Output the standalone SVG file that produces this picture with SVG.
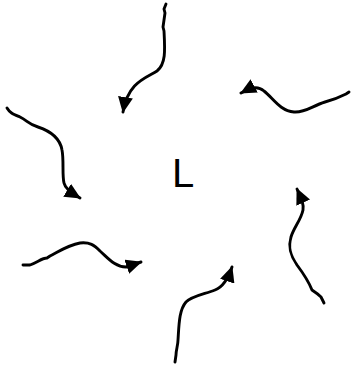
<svg xmlns="http://www.w3.org/2000/svg" width="351" height="366" viewBox="0 0 351 366">
<style>
.c{fill:none;stroke:#000;stroke-width:2.9;stroke-linecap:round;stroke-linejoin:round}
.t{font-family:"Liberation Sans",Arial,sans-serif;font-size:40px;fill:#000}
</style>
<defs>
<marker id="ah" viewBox="0 0 16 15" markerWidth="16" markerHeight="15" refX="15" refY="7.5" orient="auto" markerUnits="userSpaceOnUse">
<path d="M0,0 L16,7.5 L0,15 z" fill="#000"/>
</marker>
</defs>
<rect width="351" height="366" fill="#fff"/>
<g id="center"><text class="t" x="172" y="187">L</text></g>
<g id="connectors">
<path class="c" marker-end="url(#ah)" d="M166,4 L164,9 L165,13 L163,27 L164,31 C165,50 166,64 157,71 C146,78 128,82 123,112"/>
<path class="c" marker-end="url(#ah)" d="M349,92 L346,94 C338,98 333,100 325,102 C312,106 305,113 294,112 C280,111 273,98 264,91 C258,86 252,87 241,93"/>
<path class="c" marker-end="url(#ah)" d="M7,108 C10,113 13,114 20,117 C28,121 28,124 38,127 C50,131 60,138 62,150 C64,160 62,175 64,183 C65,188 70,192 80,198"/>
<path class="c" marker-end="url(#ah)" d="M23,265 L30,265 C38,262 42,258 47,258 L50,256 C58,252 68,245 80,243 C90,242 94,245 100,251 C108,258 115,267 126,267 L141,262"/>
<path class="c" marker-end="url(#ah)" d="M175,362 L176,355 C176,350 178,345 178,340 C179,325 179,310 186,302 C192,296 205,294 215,290 C223,287 228,279 232,267"/>
<path class="c" marker-end="url(#ah)" d="M324,303 L321,297 C318,294 315,292 312,290 C308,280 303,273 297,265 C290,255 288,247 291,237 C294,227 301,220 303,210 C304,205 302,200 297,189"/>
</g>
</svg>
